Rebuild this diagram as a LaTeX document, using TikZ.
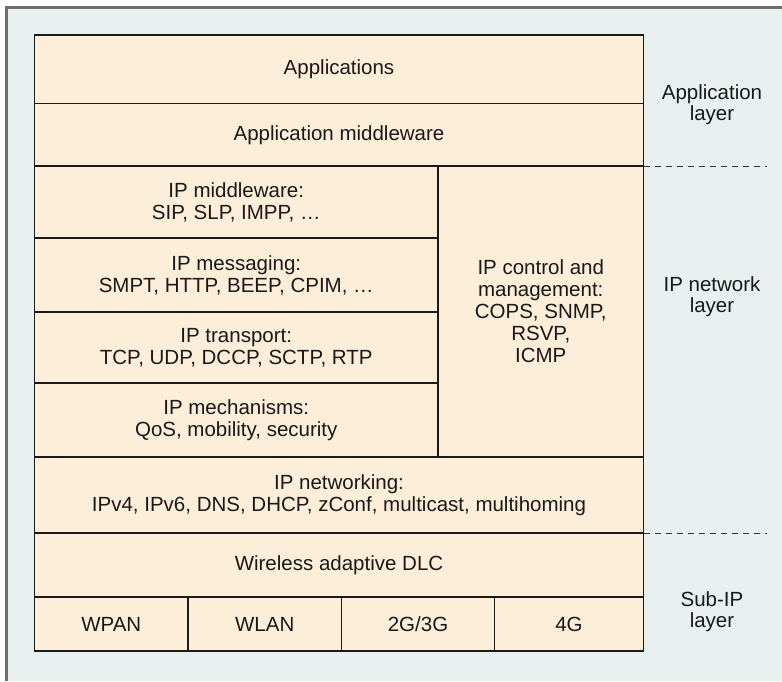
\documentclass[tikz,border=0pt]{standalone}
\usepackage{fontspec}
\setmainfont{Liberation Sans}
\definecolor{bgc}{HTML}{E8F1EF}
\definecolor{cellc}{HTML}{FDEEDA}
\definecolor{framec}{HTML}{6E6E6E}
\definecolor{linec}{HTML}{1A1A1A}
\begin{document}
\begin{tikzpicture}[x=1pt,y=-1pt,
  cell/.style={draw=linec, fill=cellc, line width=1.3pt, inner sep=0pt, outer sep=0pt,
     align=center, text=black!90, font=\fontsize{20.5}{22}\selectfont},
  lbl/.style={align=center, text=black!90, font=\fontsize{20.5}{21}\selectfont, inner sep=0pt},
  dashline/.style={dashed, dash pattern=on 6pt off 5pt, line width=1pt, draw=linec!90}]
\useasboundingbox (0,0) rectangle (782,681);
\fill[bgc] (7,7) rectangle (782,681);
\draw[framec, line width=2.2pt] (6.5,681) -- (6.5,7.5) -- (782,7.5);
% cells
\node[cell, minimum width=609pt, minimum height=68.5pt] (app) at (339,69.25) {Applications};
\node[cell, minimum width=609pt, minimum height=62.5pt] (mw) at (339,134.75) {Application middleware};
\node[cell, minimum width=403.5pt, minimum height=72pt] (ipmw) at (236.25,202) {IP middleware:\\SIP, SLP, IMPP, \dots};
\node[cell, minimum width=403.5pt, minimum height=74pt] (msg) at (236.25,275) {IP messaging:\\SMPT, HTTP, BEEP, CPIM, \dots};
\node[cell, minimum width=403.5pt, minimum height=71pt] (tr) at (236.25,347.5) {IP transport:\\TCP, UDP, DCCP, SCTP, RTP};
\node[cell, minimum width=403.5pt, minimum height=74pt] (mech) at (236.25,420) {IP mechanisms:\\QoS, mobility, security};
\node[cell, minimum width=205.5pt, minimum height=291pt] (ctrl) at (540.75,311.5) {IP control and\\management:\\COPS, SNMP,\\RSVP,\\ICMP};
\node[cell, minimum width=609pt, minimum height=76pt] (net) at (339,495) {IP networking:\\IPv4, IPv6, DNS, DHCP, zConf, multicast, multihoming};
\node[cell, minimum width=609pt, minimum height=64pt] (dlc) at (339,565) {Wireless adaptive DLC};
\node[cell, minimum width=153.5pt, minimum height=54pt] (wpan) at (111.25,624) {WPAN};
\node[cell, minimum width=153.5pt, minimum height=54pt] (wlan) at (264.75,624) {WLAN};
\node[cell, minimum width=153pt, minimum height=54pt] (g3) at (418,624) {2G/3G};
\node[cell, minimum width=149pt, minimum height=54pt] (g4) at (569,624) {4G};
% outer border
\draw[linec, line width=1.8pt] (app.north west) rectangle (g4.south east);
% dashed separators
\coordinate (d1) at (767,166);
\coordinate (d2) at (767,533);
\draw[dashline] (mw.south east) -- (d1);
\draw[dashline] (net.south east) -- (d2);
% layer labels
\node[lbl] (la) at (712,105) {Application\\layer};
\node[lbl] (ln) at (712,297) {IP network\\layer};
\node[lbl] (ls) at (712,612) {Sub-IP\\layer};
\end{tikzpicture}
\end{document}
